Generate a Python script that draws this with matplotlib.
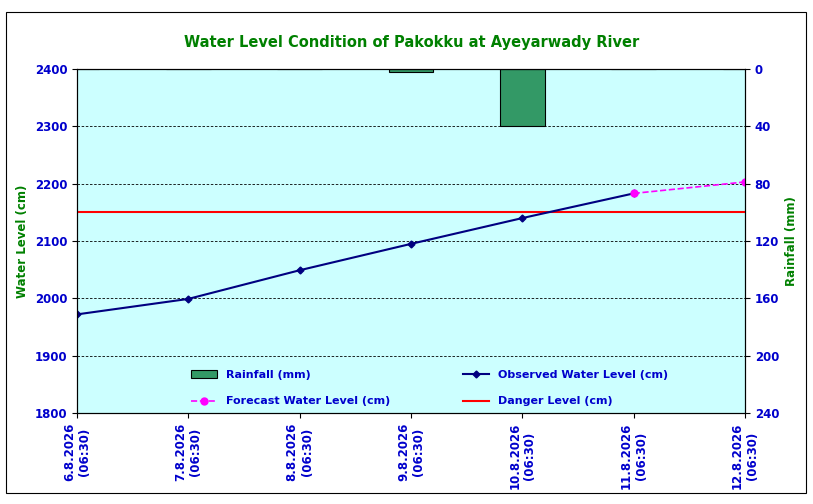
import matplotlib
matplotlib.use("Agg")
import matplotlib.pyplot as plt
from matplotlib.patches import Rectangle
import numpy as np

dates = ["6.8.2026\n(06:30)", "7.8.2026\n(06:30)", "8.8.2026\n(06:30)", "9.8.2026\n(06:30)",
         "10.8.2026\n(06:30)", "11.8.2026\n(06:30)", "12.8.2026\n(06:30)"]
observed = [1972, 1999, 2049, 2095, 2140, 2183]
forecast_idx = [5, 6]
forecast = [2183, 2203]
rainfall = [0, 0, 0, 2, 40, 0, 0]
danger = 2150

fig = plt.figure(figsize=(8.13, 5.04), dpi=100)
fig.patches.append(Rectangle((6/813, 1-493/504), 800/813, 481/504, transform=fig.transFigure,
                             fill=False, edgecolor="black", linewidth=0.8))
ax = fig.add_axes([77/813, 1-413/504, 668/813, 344/504])
x = np.arange(len(dates))
ax2 = ax.twinx()
ax2.set_zorder(0); ax.set_zorder(1); ax.patch.set_visible(False)
ax2.patch.set_visible(True); ax2.patch.set_facecolor("#ccffff")
bars = ax2.bar(x, rainfall, width=0.4, color="#339966", edgecolor="black", linewidth=0.8, label="Rainfall (mm)")
ax2.set_ylim(240, 0)
ax2.set_yticks(range(0, 241, 40))
ax2.set_xlim(0, 6)

for y in range(1900, 2401, 100):
    ax.axhline(y, color="black", linestyle=(0, (3, 2)), linewidth=0.6, zorder=0)
dl = ax.axhline(danger, color="red", linewidth=1.5, label="Danger Level (cm)")
ol, = ax.plot(x[:6], observed, color="#000080", marker="D", markersize=3.5, linewidth=1.5, label="Observed Water Level (cm)")
fl, = ax.plot(forecast_idx, forecast, color="#ff00ff", linestyle="--", marker="o", markersize=5, linewidth=1.2, label="Forecast Water Level (cm)")
ax.set_ylim(1800, 2400)
ax.set_xlim(0, 6)
ax.set_xticks(x)
ax.set_xticklabels(dates, rotation=90, color="#0000cc", fontweight="bold", fontsize=8.5)
for t in ax.get_yticklabels():
    t.set_color("#0000cc"); t.set_fontweight("bold"); t.set_fontsize(8.5)
for t in ax2.get_yticklabels():
    t.set_color("#0000cc"); t.set_fontweight("bold"); t.set_fontsize(8.5)
ax.set_ylabel("Water Level (cm)", color="#008000", fontweight="bold", fontsize=8.5)
ax2.set_ylabel("Rainfall (mm)", color="#008000", fontweight="bold", fontsize=8.5)
fig.text(412/813, 1-42/504, "Water Level Condition of Pakokku at Ayeyarwady River", ha="center", va="center",
         color="#008000", fontweight="bold", fontsize=10.5)
leg = ax.legend([bars, fl, ol, dl], ["Rainfall (mm)", "Forecast Water Level (cm)", "Observed Water Level (cm)", "Danger Level (cm)"],
                ncol=2, loc="lower left", bbox_to_anchor=(0.155, -0.01), frameon=False, columnspacing=6.5,
                handlelength=2.4, fontsize=8, labelspacing=1.5)
for t in leg.get_texts():
    t.set_color("#0000cc"); t.set_fontweight("bold")
fig.savefig("out.png", dpi=100)
